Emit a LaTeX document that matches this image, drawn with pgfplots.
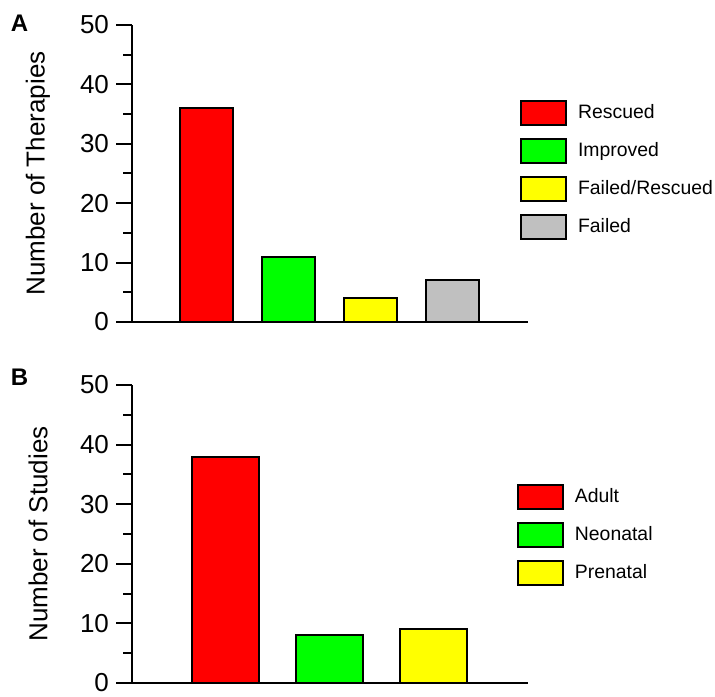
\documentclass[border=0pt]{standalone}
\usepackage{pgfplots}
\pgfplotsset{compat=1.18}
\usepackage{fontspec}
\setmainfont{Liberation Sans}
\definecolor{cRed}{RGB}{255,0,0}
\definecolor{cGreen}{RGB}{0,255,0}
\definecolor{cYellow}{RGB}{255,255,0}
\definecolor{cGray}{RGB}{192,192,192}
\pgfplotsset{
  panel/.style={
    scale only axis,
    width=198pt,
    xmin=132, xmax=528,
    ymin=0, ymax=50,
    axis lines*=left,
    axis line style={-, line width=1pt},
    xtick=\empty,
    ytick={0,10,...,50},
    minor y tick num=1,
    tick align=outside,
    major tick length=8pt,
    minor tick length=4.5pt,
    tick style={black, line width=1pt},
    /pgf/number format/assume math mode=true,
    yticklabel style={font=\fontsize{13}{15}\selectfont},
    ylabel style={font=\fontsize{13}{15}\selectfont, at={(axis description cs:-0.2374,0.5)}, anchor=center},
    ybar, bar shift=0pt,
    legend cell align=left,
    legend style={draw=none, fill=none, inner sep=0pt, outer sep=0pt,
      font=\fontsize{9.7}{11}\selectfont, row sep=6pt, anchor=north west},
    legend image code/.code={\draw[#1, line width=1pt] (0pt,-6pt) rectangle (22.5pt,6pt); \path (26pt,0pt);},
  }
}
\begin{document}
\begin{tikzpicture}
\useasboundingbox (0,0) rectangle (357.5pt,348pt);
\begin{axis}[panel, at={(66pt,187pt)}, anchor=south west, height=148.5pt,
  ylabel={Number of Therapies},
  legend style={at={(axis description cs:0.98,0.7465)}}]
\addplot[fill=cRed, draw=black, line width=1pt, bar width=53] coordinates {(206.5,36)};
\addplot[fill=cGreen, draw=black, line width=1pt, bar width=53] coordinates {(288.5,11)};
\addplot[fill=cYellow, draw=black, line width=1pt, bar width=53] coordinates {(370.5,4)};
\addplot[fill=cGray, draw=black, line width=1pt, bar width=53] coordinates {(452.5,7)};
\legend{Rescued, Improved, Failed/Rescued, Failed}
\end{axis}
\begin{axis}[panel, at={(66pt,6.5pt)}, anchor=south west, height=149pt,
  ylabel={Number of Studies},
  legend style={at={(axis description cs:0.972,0.6668)}}]
\addplot[fill=cRed, draw=black, line width=1pt, bar width=67] coordinates {(225,38)};
\addplot[fill=cGreen, draw=black, line width=1pt, bar width=67] coordinates {(329.5,8)};
\addplot[fill=cYellow, draw=black, line width=1pt, bar width=67] coordinates {(433.5,9)};
\legend{Adult, Neonatal, Prenatal}
\end{axis}
\node[font=\bfseries\fontsize{12}{14}\selectfont] at (9.75pt,336.5pt) {A};
\node[font=\bfseries\fontsize{12}{14}\selectfont] at (9.75pt,159.25pt) {B};
\end{tikzpicture}
\end{document}
